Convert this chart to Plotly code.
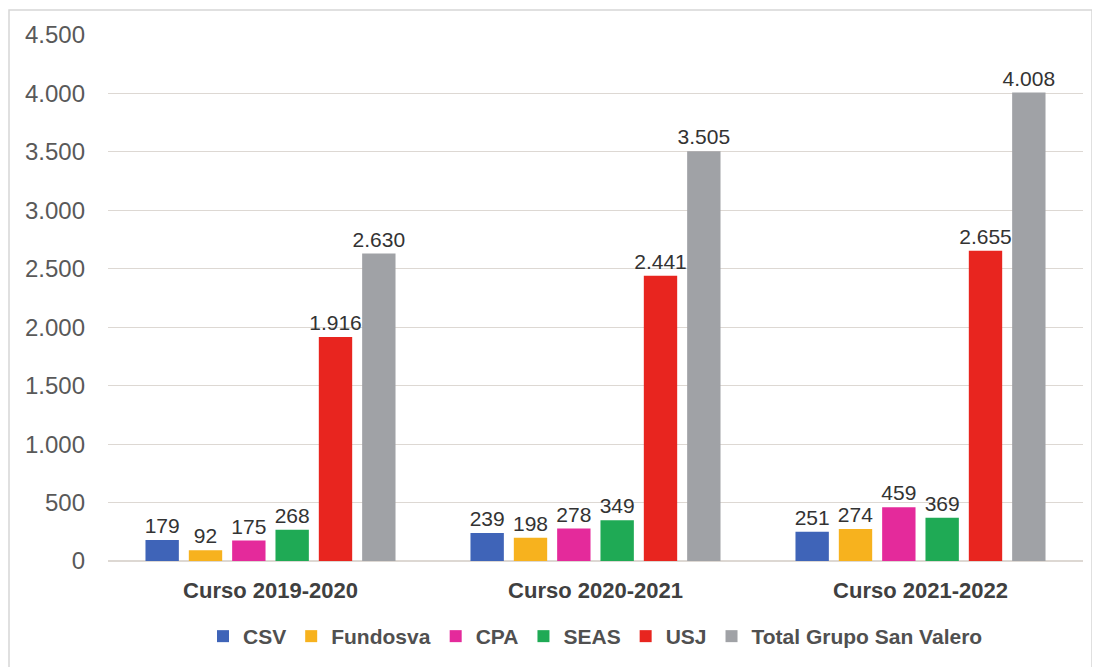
import plotly.graph_objects as go

cursos = ["Curso 2019-2020", "Curso 2020-2021", "Curso 2021-2022"]
series = ["CSV", "Fundosva", "CPA", "SEAS", "USJ", "Total Grupo San Valero"]
csv = [179, 239, 251]
fundosva = [92, 198, 274]
cpa = [175, 278, 459]
seas = [268, 349, 369]
usj = [1916, 2441, 2655]
total = [2630, 3505, 4008]
colors = ["#3F64B8", "#F7B21E", "#E42A9B", "#1FAA55", "#E8251F", "#A0A2A6"]
y_ticks = [0, 500, 1000, 1500, 2000, 2500, 3000, 3500, 4000, 4500]

values = [csv, fundosva, cpa, seas, usj, total]
FONT = "Liberation Sans, Arial"

fig = go.Figure()
for name, vals, col in zip(series, values, colors):
    fig.add_trace(
        go.Bar(
            x=cursos,
            y=vals,
            name=name,
            marker_color=col,
            marker_line_width=0,
            texttemplate="%{y:,}",
            textposition="outside",
            constraintext="none",
            textfont=dict(size=21, color="#333333", family=FONT),
            cliponaxis=False,
        )
    )

# page body adds an 8px offset, so plot area is set in figure coordinates
OFF = 8
L, R, T, B = 108 - OFF, 1083 - OFF, 35 - OFF, 561 - OFF
pw, ph = R - L, B - T
fig.add_shape(
    type="rect",
    xref="paper",
    yref="paper",
    x0=(1 - L) / pw,
    x1=(1084 - L) / pw,
    y0=(B - 680) / ph,
    y1=(B - 2) / ph,
    line=dict(color="#D6D6D6", width=1.5),
)

fig.update_layout(
    width=1100,
    height=667,
    margin=dict(l=L, r=1100 - R, t=T, b=667 - B, autoexpand=False),
    paper_bgcolor="white",
    plot_bgcolor="white",
    separators=",.",
    barmode="group",
    bargap=0.2,
    bargroupgap=0.23,
    font=dict(family=FONT, color="#595959"),
    legend=dict(
        orientation="h",
        x=0.5,
        xanchor="center",
        y=(B - 616 + OFF) / ph,
        yanchor="top",
        font=dict(size=21, color="#505050", family=FONT, weight="bold"),
        itemwidth=30,
    ),
    showlegend=True,
)
fig.update_yaxes(
    range=[0, 4500],
    tickvals=y_ticks,
    tickformat=",",
    tickfont=dict(size=24, color="#595959"),
    showgrid=True,
    gridcolor="#DDD8D3",
    gridwidth=1,
    zeroline=True,
    zerolinecolor="#DDD8D3",
    ticks="",
    ticklabelstandoff=22,
)
fig.update_xaxes(
    tickvals=cursos,
    ticktext=["<b>%s</b>" % c for c in cursos],
    tickfont=dict(size=22, color="#404040", family=FONT),
    ticklabelstandoff=14,
    showline=False,
)

fig.write_html("out.html")
